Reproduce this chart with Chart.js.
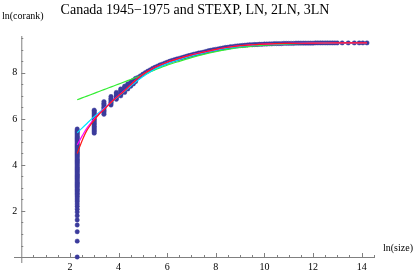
<!DOCTYPE html>
<html lang="en">
<head>
<meta charset="UTF-8">
<title>Canada 1945-1975 rank-size</title>
<script src="https://cdn.jsdelivr.net/npm/chart.js"></script>
<style>
  body { margin: 0; background: #fff; }
</style>
</head>
<body>
<canvas id="rankChart" width="415" height="273"></canvas>
<script>
// ln(size) values where many firms share one size, and their ln(corank) dots
const colSize = [2.30, 3.00, 3.40, 3.69, 3.91, 4.09, 4.25, 4.38, 4.50, 4.61, 4.70];
const colRank = [
    [0, 0.69, 1.10, 1.39, 1.61, 1.79, 1.95, 2.08, 2.20, 2.30, 2.40, 2.48, 2.56, 2.64, 2.71, 2.77, 2.83, 2.89, 2.94,
     3.00, 3.05, 3.10, 3.15, 3.20, 3.25, 3.30, 3.35, 3.40, 3.45, 3.50, 3.55, 3.60, 3.65, 3.70, 3.75, 3.80,
     3.85, 3.90, 3.95, 4.00, 4.05, 4.10, 4.15, 4.20, 4.25, 4.30, 4.35, 4.40, 4.45, 4.50, 4.55, 4.60, 4.65,
     4.70, 4.75, 4.80, 4.85, 4.90, 4.95, 5.00, 5.05, 5.10, 5.15, 5.20, 5.25, 5.30, 5.35, 5.40, 5.45, 5.50, 5.56],
    [5.38, 5.44, 5.50, 5.56, 5.62, 5.68, 5.74, 5.80, 5.86, 5.92, 5.98, 6.04, 6.10, 6.16, 6.22, 6.28, 6.34, 6.38],
    [6.20, 6.26, 6.32, 6.38, 6.44, 6.50, 6.56, 6.62, 6.68, 6.75],
    [6.60, 6.66, 6.72, 6.78, 6.84, 6.90, 6.97],
    [6.85, 6.91, 6.97, 7.03, 7.09, 7.15],
    [7.00, 7.06, 7.12, 7.18, 7.24, 7.30],
    [7.15, 7.22, 7.29, 7.36, 7.42],
    [7.30, 7.36, 7.42, 7.48, 7.52],
    [7.42, 7.48, 7.54, 7.60],
    [7.52, 7.58, 7.63, 7.68],
    [7.62, 7.67, 7.72, 7.76]
];

// the rest of the firms, one dot per (rounded) size
const bandSize = [4.8, 4.9, 5.0, 5.1, 5.2, 5.3, 5.4, 5.5, 5.6, 5.7, 5.8, 5.9, 6.0, 6.1, 6.2, 6.3, 6.4, 6.5,
    6.6, 6.7, 6.8, 6.9, 7.0, 7.1, 7.2, 7.3, 7.4, 7.5, 7.6, 7.7, 7.8, 7.9, 8.0, 8.1, 8.2, 8.3, 8.4, 8.5,
    8.6, 8.7, 8.8, 8.9, 9.0, 9.1, 9.2, 9.3, 9.4, 9.5, 9.6, 9.7, 9.8, 9.9, 10.0, 10.1, 10.2, 10.3, 10.4,
    10.5, 10.6, 10.7, 10.8, 10.9, 11.0, 11.1, 11.2, 11.3, 11.4, 11.5, 11.6, 11.7, 11.8, 11.9, 12.0, 12.1,
    12.2, 12.3, 12.4, 12.5, 12.6, 12.7, 12.8, 12.9, 13.0, 13.2, 13.45, 13.7, 13.9, 14.05, 14.22];
const bandRank = [7.80, 7.87, 7.94, 8.01, 8.07, 8.13, 8.19, 8.24, 8.29, 8.34, 8.38, 8.42, 8.46, 8.50, 8.54,
    8.57, 8.60, 8.63, 8.66, 8.69, 8.72, 8.75, 8.78, 8.81, 8.83, 8.86, 8.88, 8.90, 8.93, 8.96, 8.98, 9.00,
    9.02, 9.04, 9.06, 9.08, 9.10, 9.11, 9.13, 9.14, 9.16, 9.17, 9.18, 9.19, 9.20, 9.21, 9.22, 9.22, 9.23,
    9.23, 9.24, 9.24, 9.25, 9.25, 9.26, 9.26, 9.27, 9.27, 9.27, 9.27, 9.28, 9.28, 9.28, 9.28, 9.28, 9.29,
    9.29, 9.29, 9.29, 9.29, 9.29, 9.29, 9.29, 9.30, 9.30, 9.30, 9.30, 9.30, 9.30, 9.30, 9.30, 9.30, 9.30,
    9.30, 9.30, 9.30, 9.30, 9.30, 9.30];

// fitted curves
const fitSize = [2.30, 2.50, 2.70, 3.00, 3.20, 3.40, 3.60, 3.80, 4.00, 4.20, 4.40, 4.60, 4.80, 5.00, 5.50,
    6.00, 6.50, 7.00, 7.50, 8.00, 8.50, 9.00, 9.50, 10.0, 11.0, 12.0, 13.0, 14.22];
const stexpFit = [6.83, 6.91, 6.99, 7.11, 7.19, 7.27, 7.35, 7.43, 7.51, 7.59, 7.67, 7.75, 7.83, 7.92, 8.13,
    8.33, 8.50, 8.66, 8.80, 8.92, 9.02, 9.10, 9.16, 9.20, 9.26, 9.28, 9.30, 9.30];
const lnFit = [5.40, 5.60, 5.80, 6.10, 6.28, 6.45, 6.63, 6.80, 6.98, 7.15, 7.33, 7.51, 7.68, 7.84, 8.17,
    8.40, 8.58, 8.74, 8.87, 8.98, 9.08, 9.15, 9.20, 9.23, 9.27, 9.29, 9.30, 9.30];
const ln2Fit = [4.87, 5.25, 5.60, 6.00, 6.23, 6.43, 6.63, 6.83, 7.01, 7.19, 7.38, 7.58, 7.77, 7.93, 8.24,
    8.46, 8.63, 8.78, 8.90, 9.01, 9.11, 9.18, 9.22, 9.25, 9.28, 9.29, 9.30, 9.30];
const ln3Fit = [4.50, 5.05, 5.50, 5.95, 6.20, 6.40, 6.62, 6.82, 7.00, 7.18, 7.38, 7.58, 7.77, 7.93, 8.24,
    8.46, 8.63, 8.78, 8.90, 9.02, 9.11, 9.18, 9.22, 9.25, 9.28, 9.29, 9.30, 9.30];

const xTicks = [2, 4, 6, 8, 10, 12, 14];
const yTicks = [2, 4, 6, 8];

// build point lists for the library
let dots = [];
colSize.forEach((s, i) => colRank[i].forEach(r => dots.push({ x: s, y: r })));
bandSize.forEach((s, i) => dots.push({ x: s, y: bandRank[i] }));

const curve = arr => fitSize.map((s, i) => ({ x: s, y: arr[i] }));

function lineSet(label, data, color, order) {
    return {
        label: label, data: curve(data), showLine: true, borderColor: color,
        borderWidth: 1.2, pointRadius: 0, fill: false, tension: 0.3, order: order
    };
}

// Mathematica-style axes through the origin, drawn from the scales
const axesPlugin = {
    id: "axes",
    beforeDatasetsDraw(chart) {
        const c = chart.ctx;
        const xs = chart.scales.x, ys = chart.scales.y;
        const x0 = xs.getPixelForValue(0), y0 = ys.getPixelForValue(0);
        c.save();
        c.strokeStyle = "#808080";
        c.lineWidth = 1;
        c.beginPath();
        c.moveTo(xs.left, y0 + 0.5); c.lineTo(xs.right, y0 + 0.5);
        c.moveTo(x0 + 0.5, ys.bottom); c.lineTo(x0 + 0.5, ys.top);
        // minor and major ticks every 0.5
        for (let v = 0.5; v <= xs.max; v += 0.5) {
            let px = Math.round(xs.getPixelForValue(v)) + 0.5;
            let len = (v % 2 === 0) ? 4 : 2;
            c.moveTo(px, y0); c.lineTo(px, y0 - len);
        }
        for (let v = 0.5; v <= ys.max; v += 0.5) {
            let py = Math.round(ys.getPixelForValue(v)) + 0.5;
            let len = (v % 2 === 0) ? 4 : 2;
            c.moveTo(x0, py); c.lineTo(x0 + len, py);
        }
        c.stroke();

        c.fillStyle = "#000";
        c.font = "10px 'Liberation Serif'";
        c.textAlign = "center";
        c.textBaseline = "top";
        xTicks.forEach(v => c.fillText(v, xs.getPixelForValue(v), y0 + 5));
        c.textAlign = "right";
        c.textBaseline = "middle";
        yTicks.forEach(v => c.fillText(v, x0 - 4, ys.getPixelForValue(v)));

        c.textAlign = "left";
        c.fillText("ln(size)", 383, y0 - 9);
        c.fillText("ln(corank)", 2, 16);

        c.textAlign = "center";
        c.font = "14px 'Liberation Serif'";
        c.fillText("Canada 1945\u22121975 and STEXP, LN, 2LN, 3LN", 195, 10);
        c.restore();
    }
};

new Chart(document.getElementById("rankChart"), {
    type: "scatter",
    data: {
        datasets: [
            lineSet("3LN", ln3Fit, "#ff1a1a", 0),
            lineSet("2LN", ln2Fit, "#ff00ff", 1),
            lineSet("LN", lnFit, "#00e5ff", 2),
            lineSet("STEXP", stexpFit, "#33ee33", 3),
            {
                label: "Canada 1945-1975", data: dots, order: 4,
                backgroundColor: "#3b3b9c", borderColor: "rgba(59,59,156,0.45)",
                borderWidth: 1, pointRadius: 2.2
            }
        ]
    },
    options: {
        responsive: false,
        animation: false,
        layout: { padding: { left: 14, right: 40, top: 36, bottom: 10 } },
        plugins: { legend: { display: false }, tooltip: { enabled: false } },
        scales: {
            x: { type: "linear", min: -0.3, max: 14.55, display: false },
            y: { type: "linear", min: -0.26, max: 9.6, display: false }
        }
    },
    plugins: [axesPlugin]
});
</script>
</body>
</html>
